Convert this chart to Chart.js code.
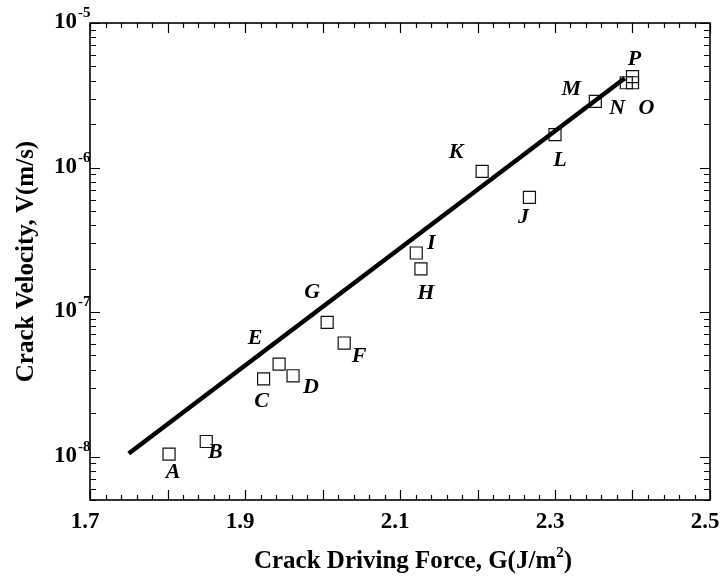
<!DOCTYPE html>
<html>
<head>
<meta charset="utf-8">
<title>Crack velocity vs driving force</title>
<script src="https://cdn.jsdelivr.net/npm/chart.js@4/dist/chart.umd.min.js"></script>
<style>
  body { margin: 0; background: #fff; }
  #wrap { width: 720px; height: 577px; }
</style>
</head>
<body>
<div id="wrap"><canvas id="chart" width="720" height="577"></canvas></div>
<script>
// Dados
const pointNames = ['A', 'B', 'C', 'D', 'E', 'F', 'G', 'H', 'I', 'J', 'K', 'L', 'M', 'N', 'O', 'P'];
const driveForce = [1.802, 1.850, 1.924, 1.962, 1.944, 2.028, 2.006, 2.127, 2.121, 2.267, 2.206, 2.300, 2.352, 2.392, 2.400, 2.400];
const velocity = [1.04e-8, 1.27e-8, 3.45e-8, 3.62e-8, 4.36e-8, 6.10e-8, 8.47e-8, 1.99e-7, 2.56e-7, 6.21e-7, 9.4e-7, 1.69e-6, 2.87e-6, 3.86e-6, 3.86e-6, 4.25e-6];

// Reta de ajuste
const fitG = [1.75, 2.39];
const fitV = [1.05e-8, 4.15e-6];

// Eixos
const xTickLabels = ['1.7', '1.9', '2.1', '2.3', '2.5'];
const yTickExps = [-8, -7, -6, -5];
const xMin = 1.7, xMax = 2.5;
const yMin = 5e-9, yMax = 1e-5;

// Deslocamento (px) de cada letra em relação ao seu ponto
const labelOffsets = [
  [4, 18], [9, 11], [-2, 23], [18, 12], [-24, -26], [15, 13], [-15, -30], [5, 24],
  [15, -10], [-6, 20], [-26, -19], [5, 26], [-24, -12], [-9, 26], [14, 26], [2, -17]
];

const serif = '"Liberation Serif", "Times New Roman", serif';

// Plugin para moldura, ticks internos, rótulos e títulos
const axisDecor = {
  id: 'axisDecor',
  afterDraw(chart) {
    const { ctx, chartArea: a, scales: { x, y } } = chart;
    ctx.save();
    ctx.strokeStyle = '#000';
    ctx.fillStyle = '#000';

    // ticks do eixo x (embaixo e em cima)
    ctx.lineWidth = 1.2;
    ctx.beginPath();
    for (let i = 0; i <= 40; i++) {
      const px = Math.round(x.getPixelForValue(xMin + i * 0.02)) + 0.5;
      const len = i % 5 === 0 ? 10 : 5;
      ctx.moveTo(px, a.bottom); ctx.lineTo(px, a.bottom - len);
      ctx.moveTo(px, a.top); ctx.lineTo(px, a.top + len);
    }
    // ticks do eixo y (esquerda e direita)
    for (let e = -9; e <= -5; e++) {
      for (let m = 1; m <= 9; m++) {
        const v = m * Math.pow(10, e);
        if (v < yMin * 0.999 || v > yMax * 1.001) continue;
        const py = Math.round(y.getPixelForValue(v)) + 0.5;
        const len = m === 1 ? 10 : 6;
        ctx.moveTo(a.left, py); ctx.lineTo(a.left + len, py);
        ctx.moveTo(a.right, py); ctx.lineTo(a.right - len, py);
      }
    }
    ctx.stroke();

    // moldura
    ctx.lineWidth = 1.6;
    ctx.strokeRect(a.left, a.top, a.right - a.left, a.bottom - a.top);

    // rótulos do eixo x
    ctx.font = 'bold 23px ' + serif;
    ctx.textAlign = 'center';
    ctx.textBaseline = 'alphabetic';
    xTickLabels.forEach(t => {
      ctx.fillText(t, x.getPixelForValue(parseFloat(t)) - 5, a.bottom + 28);
    });

    // rótulos do eixo y (10 com expoente)
    yTickExps.forEach(e => {
      const py = y.getPixelForValue(Math.pow(10, e));
      ctx.font = 'bold 23px ' + serif;
      ctx.textAlign = 'right';
      ctx.fillText('10', a.left - 13, py + 5);
      ctx.font = 'bold 15px ' + serif;
      ctx.textAlign = 'left';
      ctx.fillText('-' + Math.abs(e), a.left - 12, py - 6);
    });

    // título do eixo x com sobrescrito
    const t1 = 'Crack Driving Force, G(J/m', t2 = '2', t3 = ')';
    ctx.font = 'bold 25px ' + serif;
    const w1 = ctx.measureText(t1).width, w3 = ctx.measureText(t3).width;
    ctx.font = 'bold 15px ' + serif;
    const w2 = ctx.measureText(t2).width;
    let sx = 413 - (w1 + w2 + w3) / 2;
    const by = a.bottom + 68;
    ctx.textAlign = 'left';
    ctx.font = 'bold 25px ' + serif;
    ctx.fillText(t1, sx, by);
    ctx.font = 'bold 15px ' + serif;
    ctx.fillText(t2, sx + w1, by - 11);
    ctx.font = 'bold 25px ' + serif;
    ctx.fillText(t3, sx + w1 + w2, by);

    // título do eixo y
    ctx.save();
    ctx.translate(27, (a.top + a.bottom) / 2);
    ctx.rotate(-Math.PI / 2);
    ctx.textAlign = 'center';
    ctx.textBaseline = 'middle';
    ctx.fillText('Crack Velocity, V(m/s)', 0, 0);
    ctx.restore();

    // letras dos pontos
    const meta = chart.getDatasetMeta(1);
    ctx.font = 'bold italic 22px ' + serif;
    ctx.textAlign = 'center';
    ctx.textBaseline = 'middle';
    meta.data.forEach((pt, i) => {
      const [dx, dy] = labelOffsets[i];
      ctx.fillText(pointNames[i], pt.x + dx, pt.y + dy);
    });

    ctx.restore();
  }
};

const ctx = document.getElementById('chart');
new Chart(ctx, {
  type: 'scatter',
  data: {
    datasets: [
      {
        type: 'line',
        label: 'Ajuste',
        data: fitG.map((g, i) => ({ x: g, y: fitV[i] })),
        borderColor: '#000',
        borderWidth: 4.5,
        pointRadius: 0,
        fill: false
      },
      {
        label: 'Medidas',
        data: driveForce.map((g, i) => ({ x: g, y: velocity[i] })),
        pointStyle: 'rect',
        pointRadius: 8.5,
        pointBorderWidth: 1.2,
        pointBorderColor: '#111',
        pointBackgroundColor: 'rgba(0,0,0,0)'
      }
    ]
  },
  options: {
    responsive: false,
    animation: false,
    devicePixelRatio: 1,
    layout: { padding: { left: 90, right: 10, top: 23, bottom: 77 } },
    plugins: {
      legend: { display: false },
      tooltip: { enabled: false }
    },
    scales: {
      x: { type: 'linear', min: xMin, max: xMax, display: false },
      y: { type: 'logarithmic', min: yMin, max: yMax, display: false }
    }
  },
  plugins: [axisDecor]
});
</script>
</body>
</html>
